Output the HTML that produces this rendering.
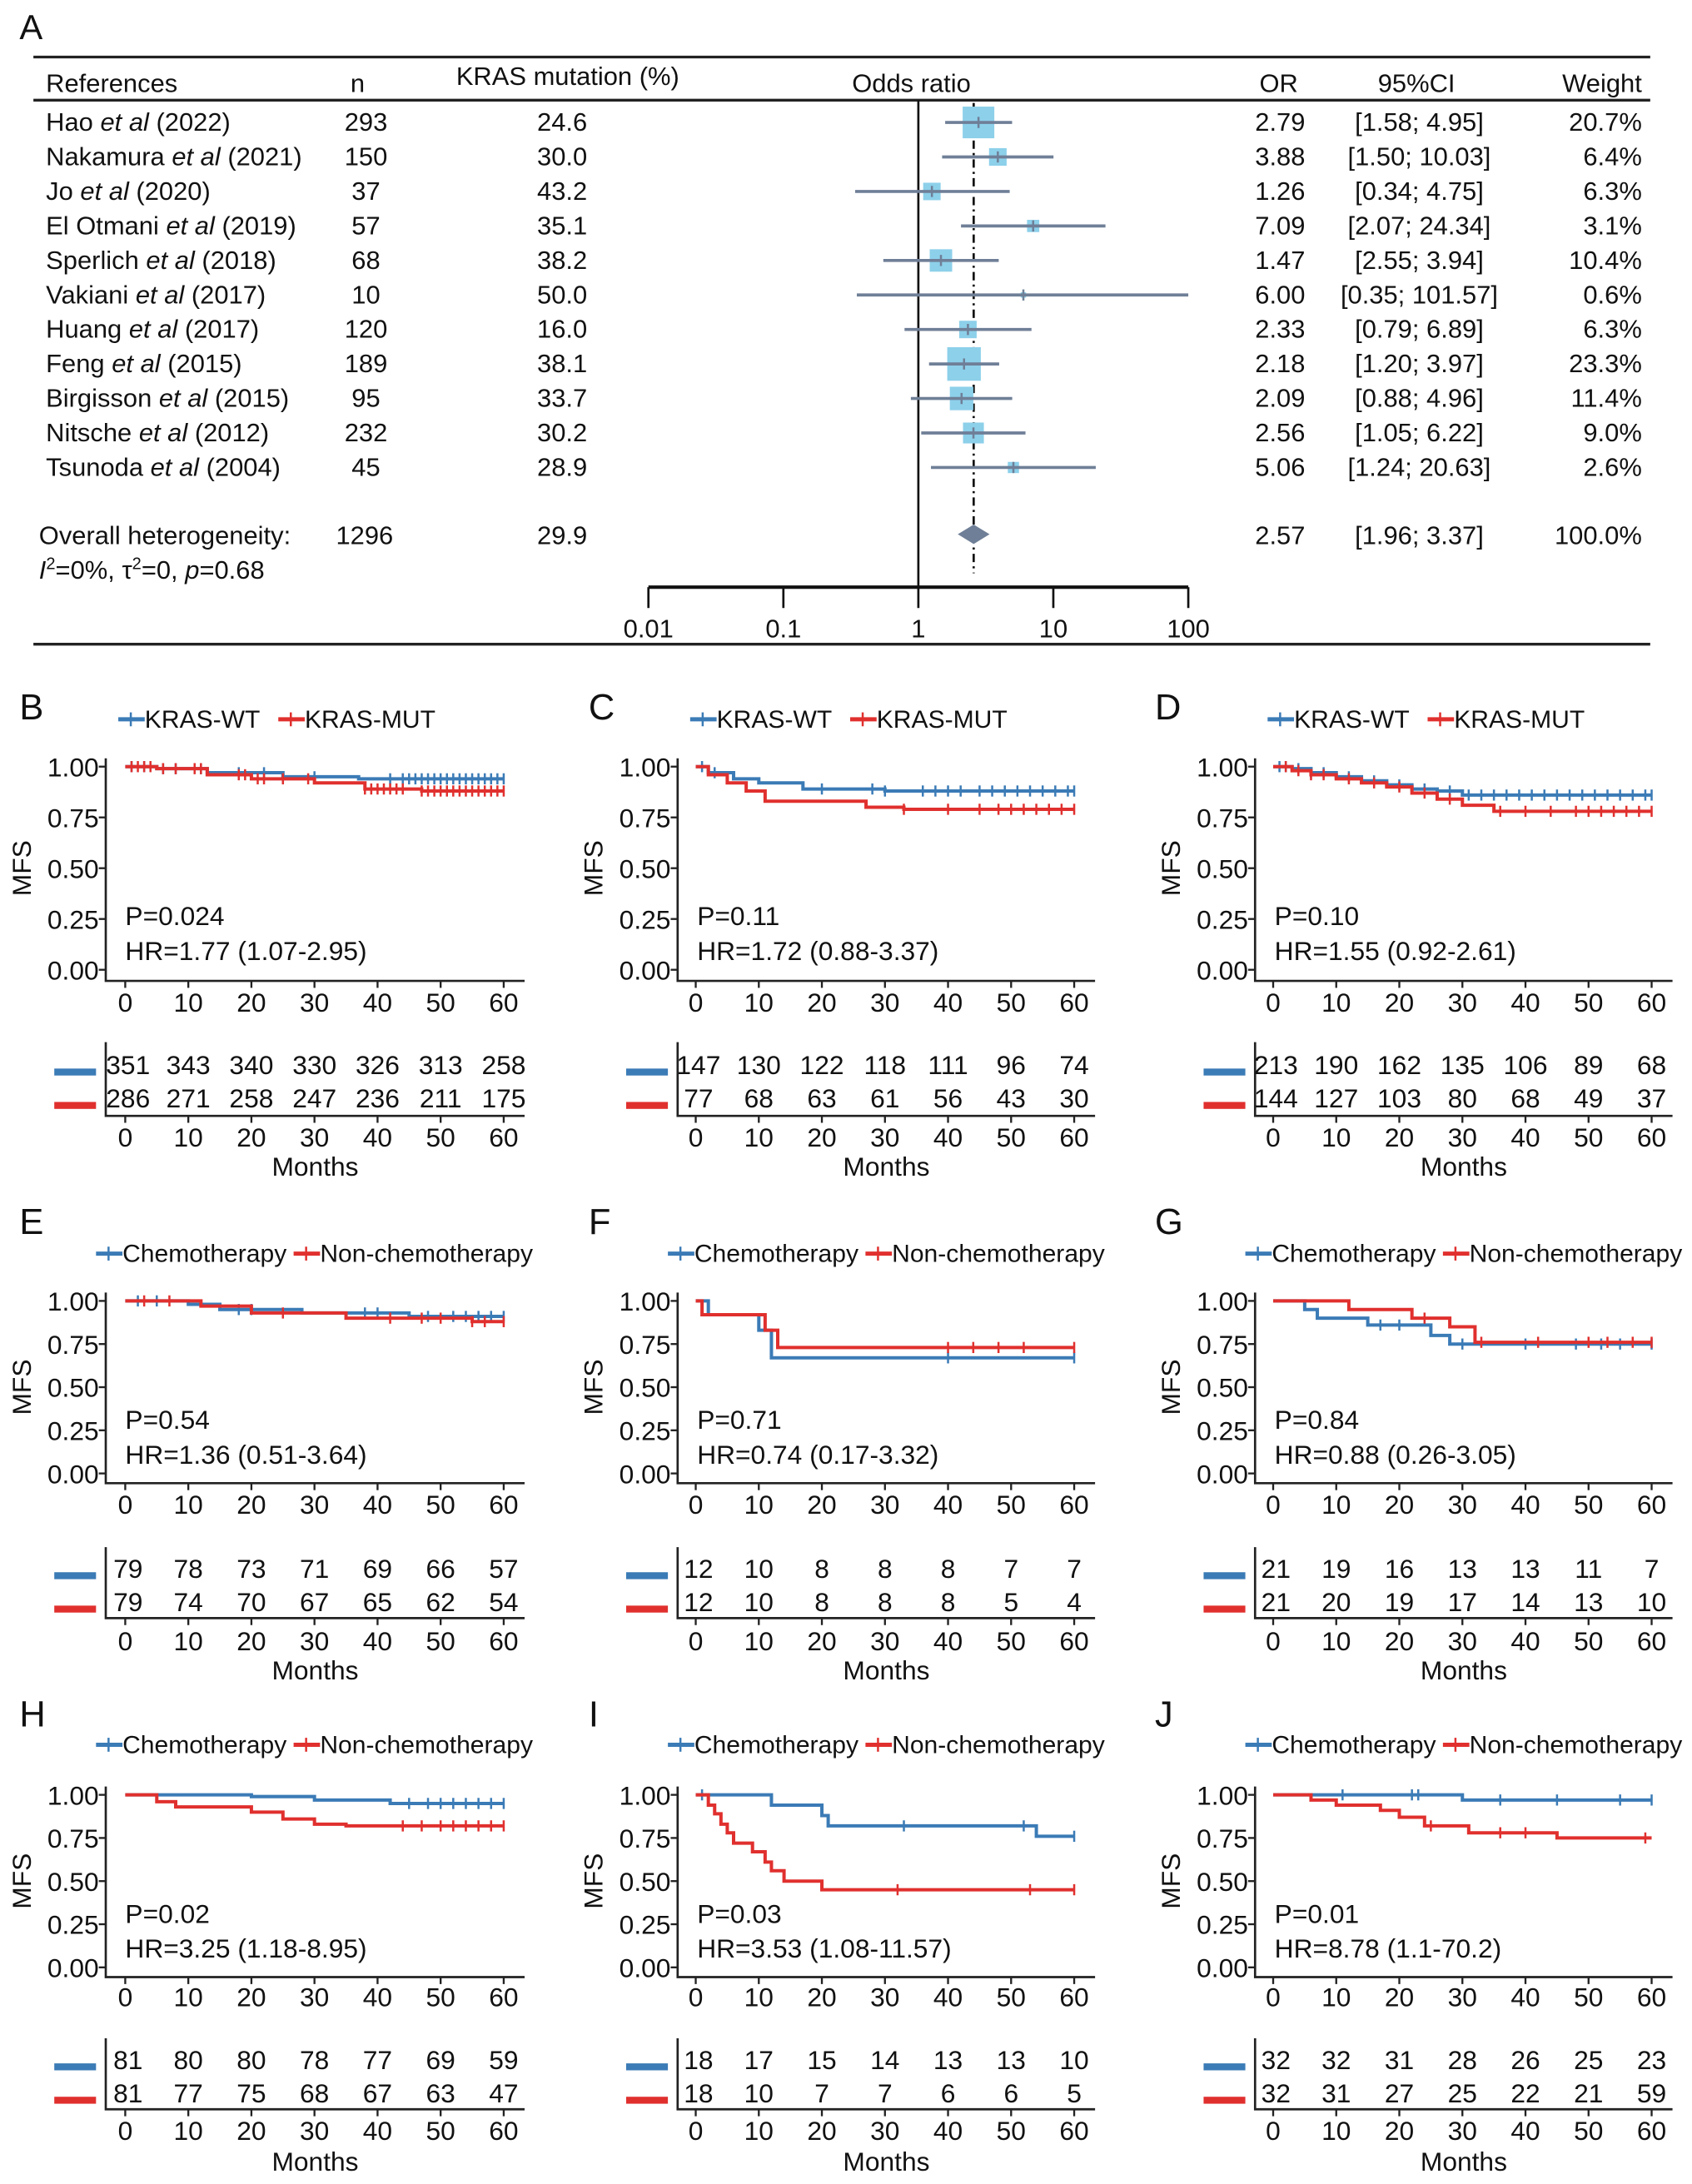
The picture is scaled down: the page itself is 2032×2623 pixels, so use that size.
<!DOCTYPE html>
<html><head><meta charset="utf-8"><style>
html,body{margin:0;padding:0;background:#fff}
svg{display:block;font-family:"Liberation Sans",Arial,sans-serif}
</style></head><body>
<svg id="fig" xmlns="http://www.w3.org/2000/svg" width="2032" height="2623" viewBox="0 0 1216 1569.7"></svg>
<script>
// ---------- Forest plot data ----------
const refNames=["Hao","Nakamura","Jo","El Otmani","Sperlich","Vakiani","Huang","Feng","Birgisson","Nitsche","Tsunoda"];
const refYears=["2022","2021","2020","2019","2018","2017","2017","2015","2015","2012","2004"];
const nVals=[293,150,37,57,68,10,120,189,95,232,45];
const pctVals=["24.6","30.0","43.2","35.1","38.2","50.0","16.0","38.1","33.7","30.2","28.9"];
const orVals=[2.79,3.88,1.26,7.09,1.47,6.00,2.33,2.18,2.09,2.56,5.06];
const loVals=[1.58,1.50,0.34,2.07,0.55,0.35,0.79,1.20,0.88,1.05,1.24];
const hiVals=[4.95,10.03,4.75,24.34,3.94,101.57,6.89,3.97,4.96,6.22,20.63];
const ciText=["[1.58; 4.95]","[1.50; 10.03]","[0.34; 4.75]","[2.07; 24.34]","[2.55; 3.94]","[0.35; 101.57]","[0.79; 6.89]","[1.20; 3.97]","[0.88; 4.96]","[1.05; 6.22]","[1.24; 20.63]"];
const weightVals=[20.7,6.4,6.3,3.1,10.4,0.6,6.3,23.3,11.4,9.0,2.6];
const overallOR=2.57, overallLo=1.96, overallHi=3.37;
const orTicks=[0.01,0.1,1,10,100];

// ---------- KM data ----------
const B_wt_t=[0,5,13,25,37,60], B_wt_s=[1,0.99,0.97,0.95,0.94,0.94];
const B_mut_t=[0,5,13,20,30,38,47,60], B_mut_s=[1,0.99,0.96,0.94,0.92,0.89,0.88,0.88];
const B_wt_c=[1,3,6,8,12,18,22,25,30,42,44,45,46,47,48,49,50,51,52,53,54,55,56,57,58,59,60];
const B_mut_c=[1,2,3,4,6,8,11,12,18,19,21,22,25,29,38,39,40,41,42,43,44,47,48,49,50,51,52,53,54,55,56,57,58,59,60];
const C_wt_t=[0,2,6,10,17,30,60], C_wt_s=[1,0.97,0.94,0.92,0.89,0.88,0.88];
const C_mut_t=[0,2,5,8,11,27,33,60], C_mut_s=[1,0.96,0.92,0.88,0.83,0.80,0.79,0.79];
const C_wt_c=[1,3,20,28,30,36,38,40,42,45,47,49,51,53,55,57,59,60];
const C_mut_c=[33,40,45,48,50,52,54,56,58,60];
const D_wt_t=[0,3,6,10,14,18,22,26,30,60], D_wt_s=[1,0.99,0.97,0.95,0.93,0.91,0.89,0.88,0.86,0.86];
const D_mut_t=[0,3,6,10,14,18,22,26,30,35,60], D_mut_s=[1,0.98,0.96,0.94,0.92,0.90,0.87,0.84,0.81,0.78,0.78];
const D_wt_c=[1,2,4,6,8,12,16,20,24,28,31,33,35,37,39,41,43,45,47,49,51,53,55,57,59,60];
const D_mut_c=[2,4,6,8,12,16,20,24,28,36,40,44,48,50,52,54,56,58,60];
const E_wt_t=[0,10,15,28,45,60], E_wt_s=[1,0.98,0.95,0.93,0.91,0.91];
const E_mut_t=[0,12,20,35,55,60], E_mut_s=[1,0.97,0.93,0.90,0.88,0.88];
const E_wt_c=[2,5,18,20,38,40,48,52,54,56,58,60];
const E_mut_c=[3,7,25,42,47,50,55,57,60];
const F_wt_t=[0,2,10,12,60], F_wt_s=[1,0.92,0.83,0.67,0.67];
const F_mut_t=[0,1,11,13,60], F_mut_s=[1,0.92,0.83,0.73,0.73];
const F_wt_c=[40,60]; const F_mut_c=[40,44,48,52,60];
const G_wt_t=[0,5,7,15,25,28,60], G_wt_s=[1,0.95,0.90,0.86,0.80,0.75,0.75];
const G_mut_t=[0,12,22,28,32,60], G_mut_s=[1,0.95,0.90,0.85,0.76,0.76];
const G_wt_c=[17,20,30,40,48,52,55,60]; const G_mut_c=[24,33,42,50,53,57,60];
const H_wt_t=[0,20,30,42,60], H_wt_s=[1,0.99,0.97,0.95,0.95];
const H_mut_t=[0,5,8,20,25,30,35,60], H_mut_s=[1,0.96,0.93,0.90,0.86,0.83,0.82,0.82];
const H_wt_c=[45,48,50,52,54,56,58,60]; const H_mut_c=[44,47,50,52,54,56,58,60];
const I_wt_t=[0,12,20,21,54,60], I_wt_s=[1,0.94,0.88,0.82,0.76,0.76];
const I_mut_t=[0,2,3,4,5,6,9,11,12,14,20,60], I_mut_s=[1,0.94,0.89,0.83,0.78,0.72,0.67,0.61,0.56,0.50,0.45,0.45];
const I_wt_c=[1,33,52,60]; const I_mut_c=[32,53,60];
const J_wt_t=[0,30,60], J_wt_s=[1,0.97,0.97];
const J_mut_t=[0,6,10,17,20,24,31,45,60], J_mut_s=[1,0.97,0.94,0.91,0.87,0.82,0.78,0.75,0.75];
const J_wt_c=[11,22,23,36,45,55,60]; const J_mut_c=[25,36,40,59];

const riskB1=[351,343,340,330,326,313,258], riskB2=[286,271,258,247,236,211,175];
const riskC1=[147,130,122,118,111,96,74], riskC2=[77,68,63,61,56,43,30];
const riskD1=[213,190,162,135,106,89,68], riskD2=[144,127,103,80,68,49,37];
const riskE1=[79,78,73,71,69,66,57], riskE2=[79,74,70,67,65,62,54];
const riskF1=[12,10,8,8,8,7,7], riskF2=[12,10,8,8,8,5,4];
const riskG1=[21,19,16,13,13,11,7], riskG2=[21,20,19,17,14,13,10];
const riskH1=[81,80,80,78,77,69,59], riskH2=[81,77,75,68,67,63,47];
const riskI1=[18,17,15,14,13,13,10], riskI2=[18,10,7,7,6,6,5];
const riskJ1=[32,32,31,28,26,25,23], riskJ2=[32,31,27,25,22,21,59];
const timeTicks=[0,10,20,30,40,50,60];
const survTicks=[0,0.25,0.5,0.75,1];
const pTexts=["P=0.024","P=0.11","P=0.10","P=0.54","P=0.71","P=0.84","P=0.02","P=0.03","P=0.01"];
const hrTexts=["HR=1.77 (1.07-2.95)","HR=1.72 (0.88-3.37)","HR=1.55 (0.92-2.61)","HR=1.36 (0.51-3.64)","HR=0.74 (0.17-3.32)","HR=0.88 (0.26-3.05)","HR=3.25 (1.18-8.95)","HR=3.53 (1.08-11.57)","HR=8.78 (1.1-70.2)"];

const NS='http://www.w3.org/2000/svg';
const svg=document.getElementById('fig');
const BLUE='#3b7bb6', RED='#e0302e';
const FF=18.5, KF=19;
function mk(tag,attrs,parent){const e=document.createElementNS(NS,tag);for(const k in attrs)e.setAttribute(k,attrs[k]);(parent||svg).appendChild(e);return e;}
function tx(x,y,s,size,anchor,parent,extra){const e=mk('text',Object.assign({x:x,y:y,'font-size':size,'text-anchor':anchor||'start',fill:'#111'},extra||{}),parent);e.textContent=s;return e;}

// ---------- Forest plot ----------
const fp=mk('g',{});


let t=tx(14,28,'A',25,'start',fp);


let ln=mk('line',{x1:24,y1:41,x2:1186,y2:41,stroke:'#222','stroke-width':2},fp);


ln=mk('line',{x1:24,y1:72,x2:1186,y2:72,stroke:'#222','stroke-width':2},fp);


ln=mk('line',{x1:24,y1:463,x2:1186,y2:463,stroke:'#222','stroke-width':2},fp);


const hdr=[['References',33,'start'],['n',257,'middle'],['KRAS mutation (%)',408,'middle'],['Odds ratio',655,'middle'],['OR',919,'middle'],['95%CI',1018,'middle'],['Weight',1180,'end']];
hdr.forEach((h,i)=>{const e=tx(h[1],h[0]==='KRAS mutation (%)'?61:66,h[0],FF,h[2],fp);

});
const ox=v=>660+Math.log10(v)*97;
const rowY=i=>94+i*24.8;
ln=mk('line',{x1:660,y1:72,x2:660,y2:422,stroke:'#111','stroke-width':1.6},fp);


ln=mk('line',{x1:ox(overallOR),y1:74,x2:ox(overallOR),y2:412,stroke:'#111','stroke-width':1.6,'stroke-dasharray':'6,3,1.5,3'},fp);


for(let i=0;i<refNames.length;i++){
  const y=rowY(i);
  const r=tx(33,y,'',FF,'start',fp);
  
  
  const a=mk('tspan',{},r);a.textContent=refNames[i]+' ';
  const b=mk('tspan',{'font-style':'italic'},r);b.textContent='et al';
  const c=mk('tspan',{},r);c.textContent=' ('+refYears[i]+')';
  let e=tx(263,y,String(nVals[i]),FF,'middle',fp);
  
  
  e=tx(404,y,pctVals[i],FF,'middle',fp);
  
  
  e=tx(920,y,orVals[i].toFixed(2),FF,'middle',fp);
  
  
  e=tx(1020,y,ciText[i],FF,'middle',fp);
  
  
  e=tx(1180,y,weightVals[i].toFixed(1)+'%',FF,'end',fp);
  
  
  const cy=y-6;
  const sz=Math.max(3,5*Math.sqrt(weightVals[i]));
  const bx=mk('rect',{x:ox(orVals[i])-sz/2,y:cy-sz/2,width:sz,height:sz,fill:'#8dd0ea'},fp);
  
  
  const ci=mk('line',{x1:ox(loVals[i]),y1:cy,x2:ox(Math.min(hiVals[i],100)),y2:cy,stroke:'#6f7f97','stroke-width':2.2},fp);
  
  
  const pt=mk('line',{x1:ox(orVals[i]),y1:cy-4,x2:ox(orVals[i]),y2:cy+4,stroke:'#6f7f97','stroke-width':1.5},fp);
  
  
}
let e=tx(28,391,'Overall heterogeneity:',FF,'start',fp);


e=tx(262,391,'1296',FF,'middle',fp);


e=tx(404,391,'29.9',FF,'middle',fp);


e=tx(920,391,overallOR.toFixed(2),FF,'middle',fp);


e=tx(1020,391,'['+overallLo.toFixed(2)+'; '+overallHi.toFixed(2)+']',FF,'middle',fp);


e=tx(1180,391,'100.0%',FF,'end',fp);


const dm=mk('polygon',{points:`${ox(overallLo)},384 ${ox(overallOR)},377 ${ox(overallHi)},384 ${ox(overallOR)},391`,fill:'#6f7f97'},fp);


const het=mk('text',{x:28,y:416,'font-size':FF,fill:'#111'},fp);


het.innerHTML='<tspan font-style="italic">I</tspan><tspan dy="-7" font-size="12">2</tspan><tspan dy="7">=0%, τ</tspan><tspan dy="-7" font-size="12">2</tspan><tspan dy="7">=0, </tspan><tspan font-style="italic">p</tspan><tspan>=0.68</tspan>';
ln=mk('line',{x1:ox(0.01),y1:422,x2:ox(100),y2:422,stroke:'#111','stroke-width':2.5},fp);


orTicks.forEach(v=>{
  const tk=mk('line',{x1:ox(v),y1:422,x2:ox(v),y2:437,stroke:'#111','stroke-width':1.6},fp);
  
  
  const tl=tx(ox(v),458,String(v),FF,'middle',fp);
  
  
});

// ---------- KM panels ----------
const cols=[{ax:76,x0:90,x60:362,end:377,L:14},{ax:487,x0:500,x60:772,end:787,L:423},{ax:902,x0:915,x60:1187,end:1202,L:830}];
const rows=[{y1:551,y0:697,xa:705,lab:720,rt:749,r1:765,r2:789,base:802,tk:817,mo:838,letter:508,leg:517},
            {y1:935,y0:1059,xa:1066,lab:1081,rt:1112,r1:1127,r2:1151,base:1163,tk:1179,mo:1200,letter:878,leg:901},
            {y1:1290,y0:1414,xa:1421,lab:1435,rt:1465,r1:1480,r2:1504,base:1516,tk:1531,mo:1553,letter:1232,leg:1254}];
const panels=[
 ['B',B_wt_t,B_wt_s,B_wt_c,B_mut_t,B_mut_s,B_mut_c,riskB1,riskB2],
 ['C',C_wt_t,C_wt_s,C_wt_c,C_mut_t,C_mut_s,C_mut_c,riskC1,riskC2],
 ['D',D_wt_t,D_wt_s,D_wt_c,D_mut_t,D_mut_s,D_mut_c,riskD1,riskD2],
 ['E',E_wt_t,E_wt_s,E_wt_c,E_mut_t,E_mut_s,E_mut_c,riskE1,riskE2],
 ['F',F_wt_t,F_wt_s,F_wt_c,F_mut_t,F_mut_s,F_mut_c,riskF1,riskF2],
 ['G',G_wt_t,G_wt_s,G_wt_c,G_mut_t,G_mut_s,G_mut_c,riskG1,riskG2],
 ['H',H_wt_t,H_wt_s,H_wt_c,H_mut_t,H_mut_s,H_mut_c,riskH1,riskH2],
 ['I',I_wt_t,I_wt_s,I_wt_c,I_mut_t,I_mut_s,I_mut_c,riskI1,riskI2],
 ['J',J_wt_t,J_wt_s,J_wt_c,J_mut_t,J_mut_s,J_mut_c,riskJ1,riskJ2]];
function sAt(ts,ss,t){let v=ss[0];for(let i=0;i<ts.length;i++){if(ts[i]<=t)v=ss[i];}return v;}
panels.forEach((p,k)=>{
  const c=cols[k%3], r=rows[Math.floor(k/3)];
  const g=mk('g',{});
  
  
  const X=t=>c.x0+(c.x60-c.x0)*t/60;
  const Y=s=>r.y0-(r.y0-r.y1)*s;
  let e=tx(c.L,r.letter+9,p[0],26,'start',g);
  
  
  const names=k<3?['KRAS-WT','KRAS-MUT']:['Chemotherapy','Non-chemotherapy'];
  const lxs=k<3?[c.ax+9,c.ax+124]:[c.ax-7,c.ax+135];
  [BLUE,RED].forEach((col,j)=>{
    const lx=lxs[j];
    const sw=mk('line',{x1:lx,y1:r.leg,x2:lx+19,y2:r.leg,stroke:col,'stroke-width':3},g);
    
    
    const sv=mk('line',{x1:lx+9,y1:r.leg-5,x2:lx+9,y2:r.leg+5,stroke:col,'stroke-width':1.5},g);
    
    
    const lt=tx(lx+19,r.leg+6,names[j],18,'start',g);
    
    
  });
  let a=mk('path',{d:`M${c.ax},${r.y1-6}V${r.xa}H${c.end}`,fill:'none',stroke:'#222','stroke-width':1.6},g);
  
  
  survTicks.forEach(s=>{
    const tk=mk('line',{x1:c.ax-5,y1:Y(s),x2:c.ax,y2:Y(s),stroke:'#222','stroke-width':1.4},g);
    
    
    const tl=tx(c.ax-5,Y(s)+7,s.toFixed(2),KF,'end',g);
    
    
  });
  timeTicks.forEach(t=>{
    const tk=mk('line',{x1:X(t),y1:r.xa,x2:X(t),y2:r.xa+5,stroke:'#222','stroke-width':1.4},g);
    
    
    const tl=tx(X(t),r.lab+7,String(t),KF,'middle',g);
    
    
  });
  const yl=tx(0,0,'MFS',KF,'middle',g,{transform:`translate(${c.ax-54},${(r.y0+r.y1)/2}) rotate(-90)`});
  
  
  [[p[1],p[2],p[3],BLUE,'wt'],[p[4],p[5],p[6],RED,'mut']].forEach(sr=>{
    const ts=sr[0],ss=sr[1];
    let d=`M${X(ts[0])},${Y(ss[0])}`;
    for(let i=1;i<ts.length;i++){d+=`H${X(ts[i])}V${Y(ss[i])}`;}
    d+=`H${X(60)}`;
    const cv=mk('path',{d:d,fill:'none',stroke:sr[3],'stroke-width':2.4},g);
    
    
    sr[2].forEach(t=>{
      const cm=mk('line',{x1:X(t),y1:Y(sAt(ts,ss,t))-4,x2:X(t),y2:Y(sAt(ts,ss,t))+4,stroke:sr[3],'stroke-width':1.5},g);
      
      
    });
  });
  e=tx(c.ax+14,r.y0-32,pTexts[k],KF,'start',g);
  
  
  e=tx(c.ax+14,r.y0-7,hrTexts[k],KF,'start',g);
  
  
  a=mk('path',{d:`M${c.ax},${r.rt}V${r.base}H${c.end}`,fill:'none',stroke:'#222','stroke-width':1.6},g);
  
  
  [[p[7],r.r1,BLUE],[p[8],r.r2,RED]].forEach(rr=>{
    const sw=mk('rect',{x:c.ax-37,y:rr[1]+3,width:30,height:5,fill:rr[2]},g);
    
    
    rr[0].forEach((v,i)=>{
      const rt=tx(X(timeTicks[i])+(i===0?2:0),rr[1]+7,String(v),KF,'middle',g);
      
      
    });
  });
  timeTicks.forEach(t=>{
    const tk=mk('line',{x1:X(t),y1:r.base,x2:X(t),y2:r.base+5,stroke:'#222','stroke-width':1.4},g);
    
    
    const tl=tx(X(t),r.tk+7,String(t),KF,'middle',g);
    
    
  });
  e=tx((c.ax+c.end)/2,r.mo+7,'Months',KF,'middle',g);
  
  
});
</script>
</body></html>
